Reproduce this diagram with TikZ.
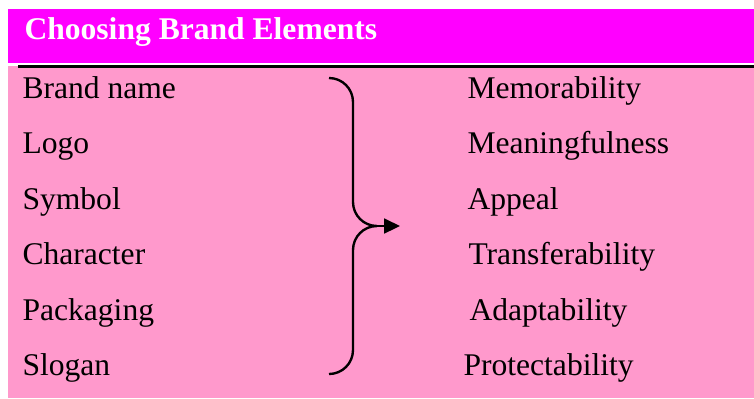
\documentclass[tikz,border=0pt]{standalone}
\usepackage{fontspec}
\setmainfont{Liberation Serif}
\usetikzlibrary{arrows.meta}

\definecolor{headmagenta}{HTML}{FF00FF}
\definecolor{bodypink}{HTML}{FF99CC}

\tikzset{
    item/.style={inner sep=0pt, anchor=base west, font=\fontsize{12}{14}\selectfont},
    heading/.style={item, text=white, font=\fontsize{12}{14}\selectfont\bfseries},
}

\begin{document}
\begin{tikzpicture}[x=0.38pt, y=-0.38pt]
    \useasboundingbox (0, 0) rectangle (754, 398);
    \fill[headmagenta] (8, 9) rectangle (754, 63);
    \fill[bodypink] (8, 66) rectangle (754, 398);
    \draw[line width=0.8pt] (18, 66.5) -- (754, 66.5);
    \node[heading] (title) at (24, 39) {Choosing Brand Elements};

    \node[item] (name) at (22, 98) {Brand name};
    \node[item] (logo) at (22, 153) {Logo};
    \node[item] (symbol) at (22, 209) {Symbol};
    \node[item] (character) at (22, 264) {Character};
    \node[item] (packaging) at (22, 320) {Packaging};
    \node[item] (slogan) at (22, 375) {Slogan};

    \node[item] (memo) at (467, 98) {Memorability};
    \node[item] (meaning) at (467, 153) {Meaningfulness};
    \node[item] (appeal) at (467, 209) {Appeal};
    \node[item] (transfer) at (468, 264) {Transferability};
    \node[item] (adapt) at (469, 320) {Adaptability};
    \node[item] (protect) at (463, 375) {Protectability};

    % brace and its arrow
    \coordinate (bracetop) at (329, 78);
    \coordinate (bracemid) at (377, 226);
    \coordinate (bracebot) at (329, 374);
    \coordinate (tip) at (400, 226);
    \draw[line width=0.9pt] (bracetop) to[out=0, in=90] (353, 102) -- (353, 202)
        to[out=-90, in=180] (bracemid) to[out=180, in=90] (353, 250) -- (353, 350)
        to[out=-90, in=0] (bracebot);
    \draw[line width=0.9pt, -{Triangle[length=6pt, width=5.6pt]}] (bracemid) -- (tip);
\end{tikzpicture}
\end{document}
